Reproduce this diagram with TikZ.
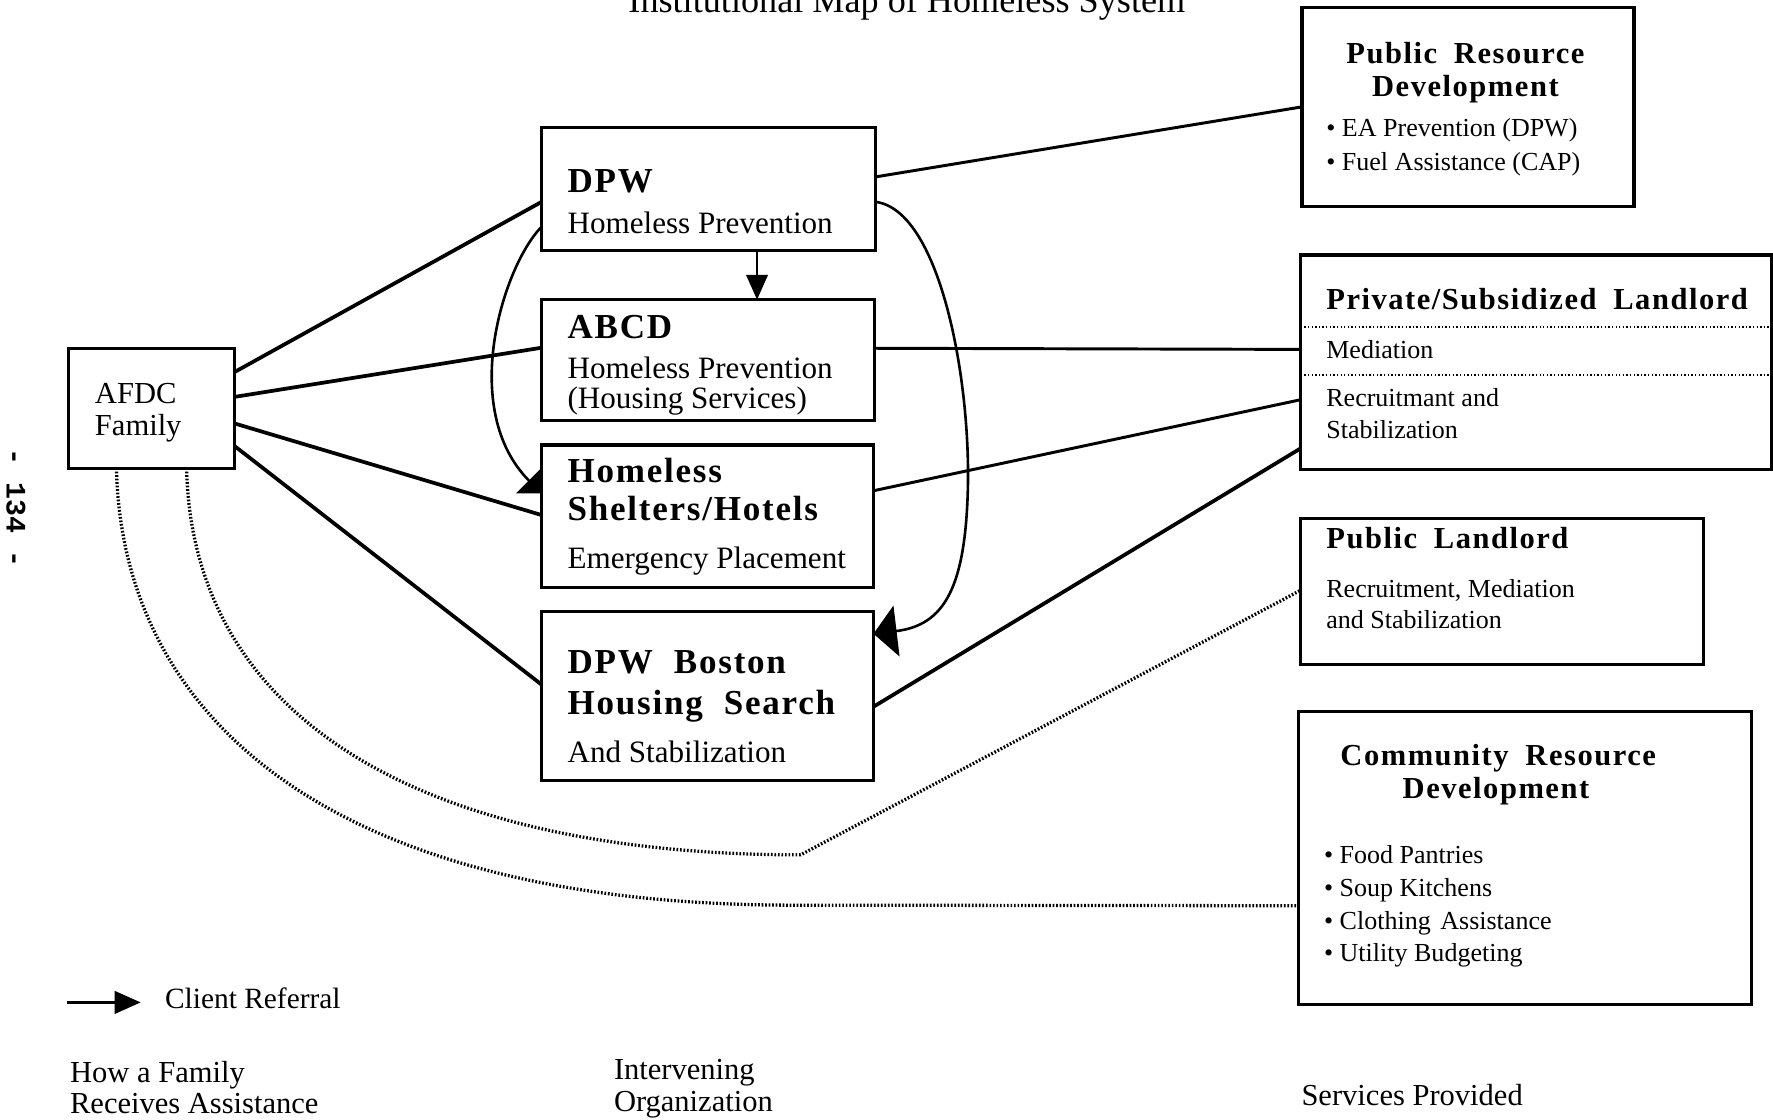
\documentclass[tikz,border=0pt]{standalone}
\usepackage{fontspec}
\setmainfont{Liberation Serif}
\newfontfamily\hdfont{Liberation Serif}[LetterSpace=5.0]
\newfontfamily\pgnumfont{Liberation Mono}
\usetikzlibrary{arrows.meta,calc}
\newcommand\fmhead{\hdfont\bfseries\fontsize{31}{36}\selectfont}
\newcommand\frhead{\hdfont\bfseries\fontsize{27}{32}\selectfont}
\newcommand\fmbody{\fontsize{27.5}{32}\selectfont}
\newcommand\fitem{\fontsize{23}{27}\selectfont}
\newcommand\flabel{\fontsize{27}{32}\selectfont}
\begin{document}
\begin{tikzpicture}[x=1pt,y=-1pt,
  box/.style={draw, line width=2.8pt, anchor=north west, inner sep=0pt, outer sep=0pt},
  txt/.style={anchor=base west, inner sep=0pt, outer sep=0pt},
  ctxt/.style={anchor=base, inner sep=0pt, outer sep=0pt},
  thickln/.style={line width=3.3pt},
  medln/.style={line width=2.6pt},
  curveln/.style={line width=2.3pt},
  dotln/.style={line width=2.9pt, dash pattern=on 1.5pt off 1.6pt},
  finedot/.style={line width=1.7pt, dash pattern=on 1.2pt off 2pt},
  refarrow/.style={line width=2.3pt, -{Triangle[length=22pt,width=19pt]}}]
\useasboundingbox (0,0) rectangle (1568,990);

% title (cut at the top edge, as in the source)
\node[ctxt, font=\fontsize{32}{36}\selectfont] (title) at (802,11) {Institutional Map of Homeless System};

% page number
\node[rotate=-90, inner sep=0pt, font=\pgnumfont\bfseries\fontsize{25}{28}\selectfont] (pgnum) at (14,449) {- 134 -};

% boxes
\node[box, minimum width=147pt, minimum height=106pt] (afdc) at (60.5,308) {};
\node[box, minimum width=295pt, minimum height=108.5pt] (dpw) at (479,113) {};
\node[box, minimum width=294.5pt, minimum height=107pt] (abcd) at (479,265) {};
\node[box, minimum width=293.5pt, minimum height=126pt] (shel) at (479,393.5) {};
\node[box, minimum width=293.5pt, minimum height=149.5pt] (bos) at (479,541) {};
\node[box, minimum width=293.5pt, minimum height=175.5pt] (prd) at (1151.5,7) {};
\node[box, minimum width=416pt, minimum height=190pt] (priv) at (1150.3,225.5) {};
\node[box, minimum width=356.5pt, minimum height=129pt] (pl) at (1150.3,458.5) {};
\node[box, minimum width=400.5pt, minimum height=258.5pt] (comm) at (1148.5,629.5) {};

% dotted separators in private landlord box
\draw[finedot] (priv.west |- 0,289.5) -- (priv.east |- 0,289.5);
\draw[finedot] (priv.west |- 0,331.7) -- (priv.east |- 0,331.7);

% texts: AFDC
\node[txt, font=\flabel] (afdc1) at (84,357) {AFDC};
\node[txt, font=\flabel] (afdc2) at (84,385) {Family};

% middle column
\node[txt, font=\fmhead] (dpw1) at (502,170) {DPW};
\node[txt, font=\fmbody] (dpw2) at (502,206.5) {Homeless Prevention};
\node[txt, font=\fmhead] (abcd1) at (502,299) {ABCD};
\node[txt, font=\fmbody] (abcd2) at (502,334.5) {Homeless Prevention};
\node[txt, font=\fmbody] (abcd3) at (502,361.5) {(Housing Services)};
\node[txt, font=\fmhead] (shel1) at (502,426.5) {Homeless};
\node[txt, font=\fmhead] (shel2) at (502,460.5) {Shelters/Hotels};
\node[txt, font=\fmbody] (shel3) at (502,502.5) {Emergency Placement};
\node[txt, font=\fmhead] (bos1) at (502,596) {DPW\hspace{0.3em} Boston};
\node[txt, font=\fmhead] (bos2) at (502,631.5) {Housing\hspace{0.3em} Search};
\node[txt, font=\fmbody] (bos3) at (502,674) {And Stabilization};

% right column
\node[ctxt, font=\frhead] (prd1) at (1296,56) {Public\hspace{0.25em} Resource};
\node[ctxt, font=\frhead] (prd2) at (1296,85.5) {Development};
\node[txt, font=\fitem] (prd3) at (1173,121) {\textbullet{} EA Prevention (DPW)};
\node[txt, font=\fitem] (prd4) at (1173,150.5) {\textbullet{} Fuel Assistance (CAP)};

\node[txt, font=\frhead] (priv1) at (1173,274) {Private/Subsidized\hspace{0.25em} Landlord};
\node[txt, font=\fitem] (priv2) at (1173,317) {Mediation};
\node[txt, font=\fitem] (priv3) at (1173,359.7) {Recruitmant and};
\node[txt, font=\fitem] (priv4) at (1173,387.7) {Stabilization};

\node[txt, font=\frhead] (pl1) at (1173,485) {Public\hspace{0.25em} Landlord};
\node[txt, font=\fitem] (pl2) at (1173,528.3) {Recruitment, Mediation};
\node[txt, font=\fitem] (pl3) at (1173,555.7) {and Stabilization};

\node[ctxt, font=\frhead] (comm1) at (1325,676.6) {Community\hspace{0.25em} Resource};
\node[ctxt, font=\frhead] (comm2) at (1323,706) {Development};
\node[txt, font=\fitem] (comm3) at (1171,763.5) {\textbullet{} Food Pantries};
\node[txt, font=\fitem] (comm4) at (1171,792.4) {\textbullet{} Soup Kitchens};
\node[txt, font=\fitem] (comm5) at (1171,821.9) {\textbullet{} Clothing\hspace{0.12em} Assistance};
\node[txt, font=\fitem] (comm6) at (1171,850.5) {\textbullet{} Utility Budgeting};

% bottom labels
\node[txt, font=\flabel] (lab1) at (62,957) {How a Family};
\node[txt, font=\flabel] (lab2) at (62,985) {Receives Assistance};
\node[txt, font=\flabel] (lab3) at (543,955) {Intervening};
\node[txt, font=\flabel] (lab4) at (543,983) {Organization};
\node[txt, font=\flabel] (lab5) at (1151,978) {Services Provided};

% legend
\coordinate (legA) at (59,886.5);
\coordinate (legB) at (124.4,886.5);
\draw[line width=2pt, -{Triangle[length=23pt,width=20pt]}] (legA) -- (legB);
\node[txt, font=\fontsize{26}{30}\selectfont] (leg) at (146,892) {Client Referral};

% connectors from AFDC
\draw[thickln] (afdc.east |- 0,329) -- (dpw.west |- 0,178.5);
\draw[thickln] (afdc.east |- 0,351) -- (abcd.west |- 0,307.5);
\draw[thickln] (afdc.east |- 0,374.5) -- (shel.west |- 0,455.5);
\draw[thickln] (afdc.east |- 0,394.5) -- (bos.west |- 0,605.5);

% connectors to services
\draw[medln] (dpw.east |- 0,156.5) -- (prd.west |- 0,94.5);
\draw[medln] (abcd.east |- 0,308) -- (priv.west |- 0,309);
\draw[medln] (shel.east |- 0,434) -- (priv.west |- 0,353.5);
\draw[thickln] (bos.east |- 0,625) -- (priv.west |- 0,396.5);

% referrals
\draw[refarrow] (dpw.south -| 669.5,0) -- (abcd.north -| 669.5,0);
\draw[curveln, -{Triangle[length=16pt,width=32pt]}]
  (dpw.west |- 0,200.5) .. controls (445,235) and (405,362) .. (shel.west |- 0,436.3);
\draw[curveln, -{Triangle[length=20.5pt,width=45pt]}]
  (dpw.east |- 0,178.5) .. controls (830,185) and (858,330) .. (856,430)
  .. controls (854,520) and (835,553) .. (bos.east |- 0,560.5);

% dotted links
\draw[dotln] (afdc.south -| 103,0) .. controls (108,640) and (300,800) .. (700,800.5)
  -- (comm.west |- 0,801);
\draw[dotln] (afdc.south -| 165,0) .. controls (170,640) and (380,756) .. (708,756)
  -- (pl.west |- 0,522);
\end{tikzpicture}
\end{document}
